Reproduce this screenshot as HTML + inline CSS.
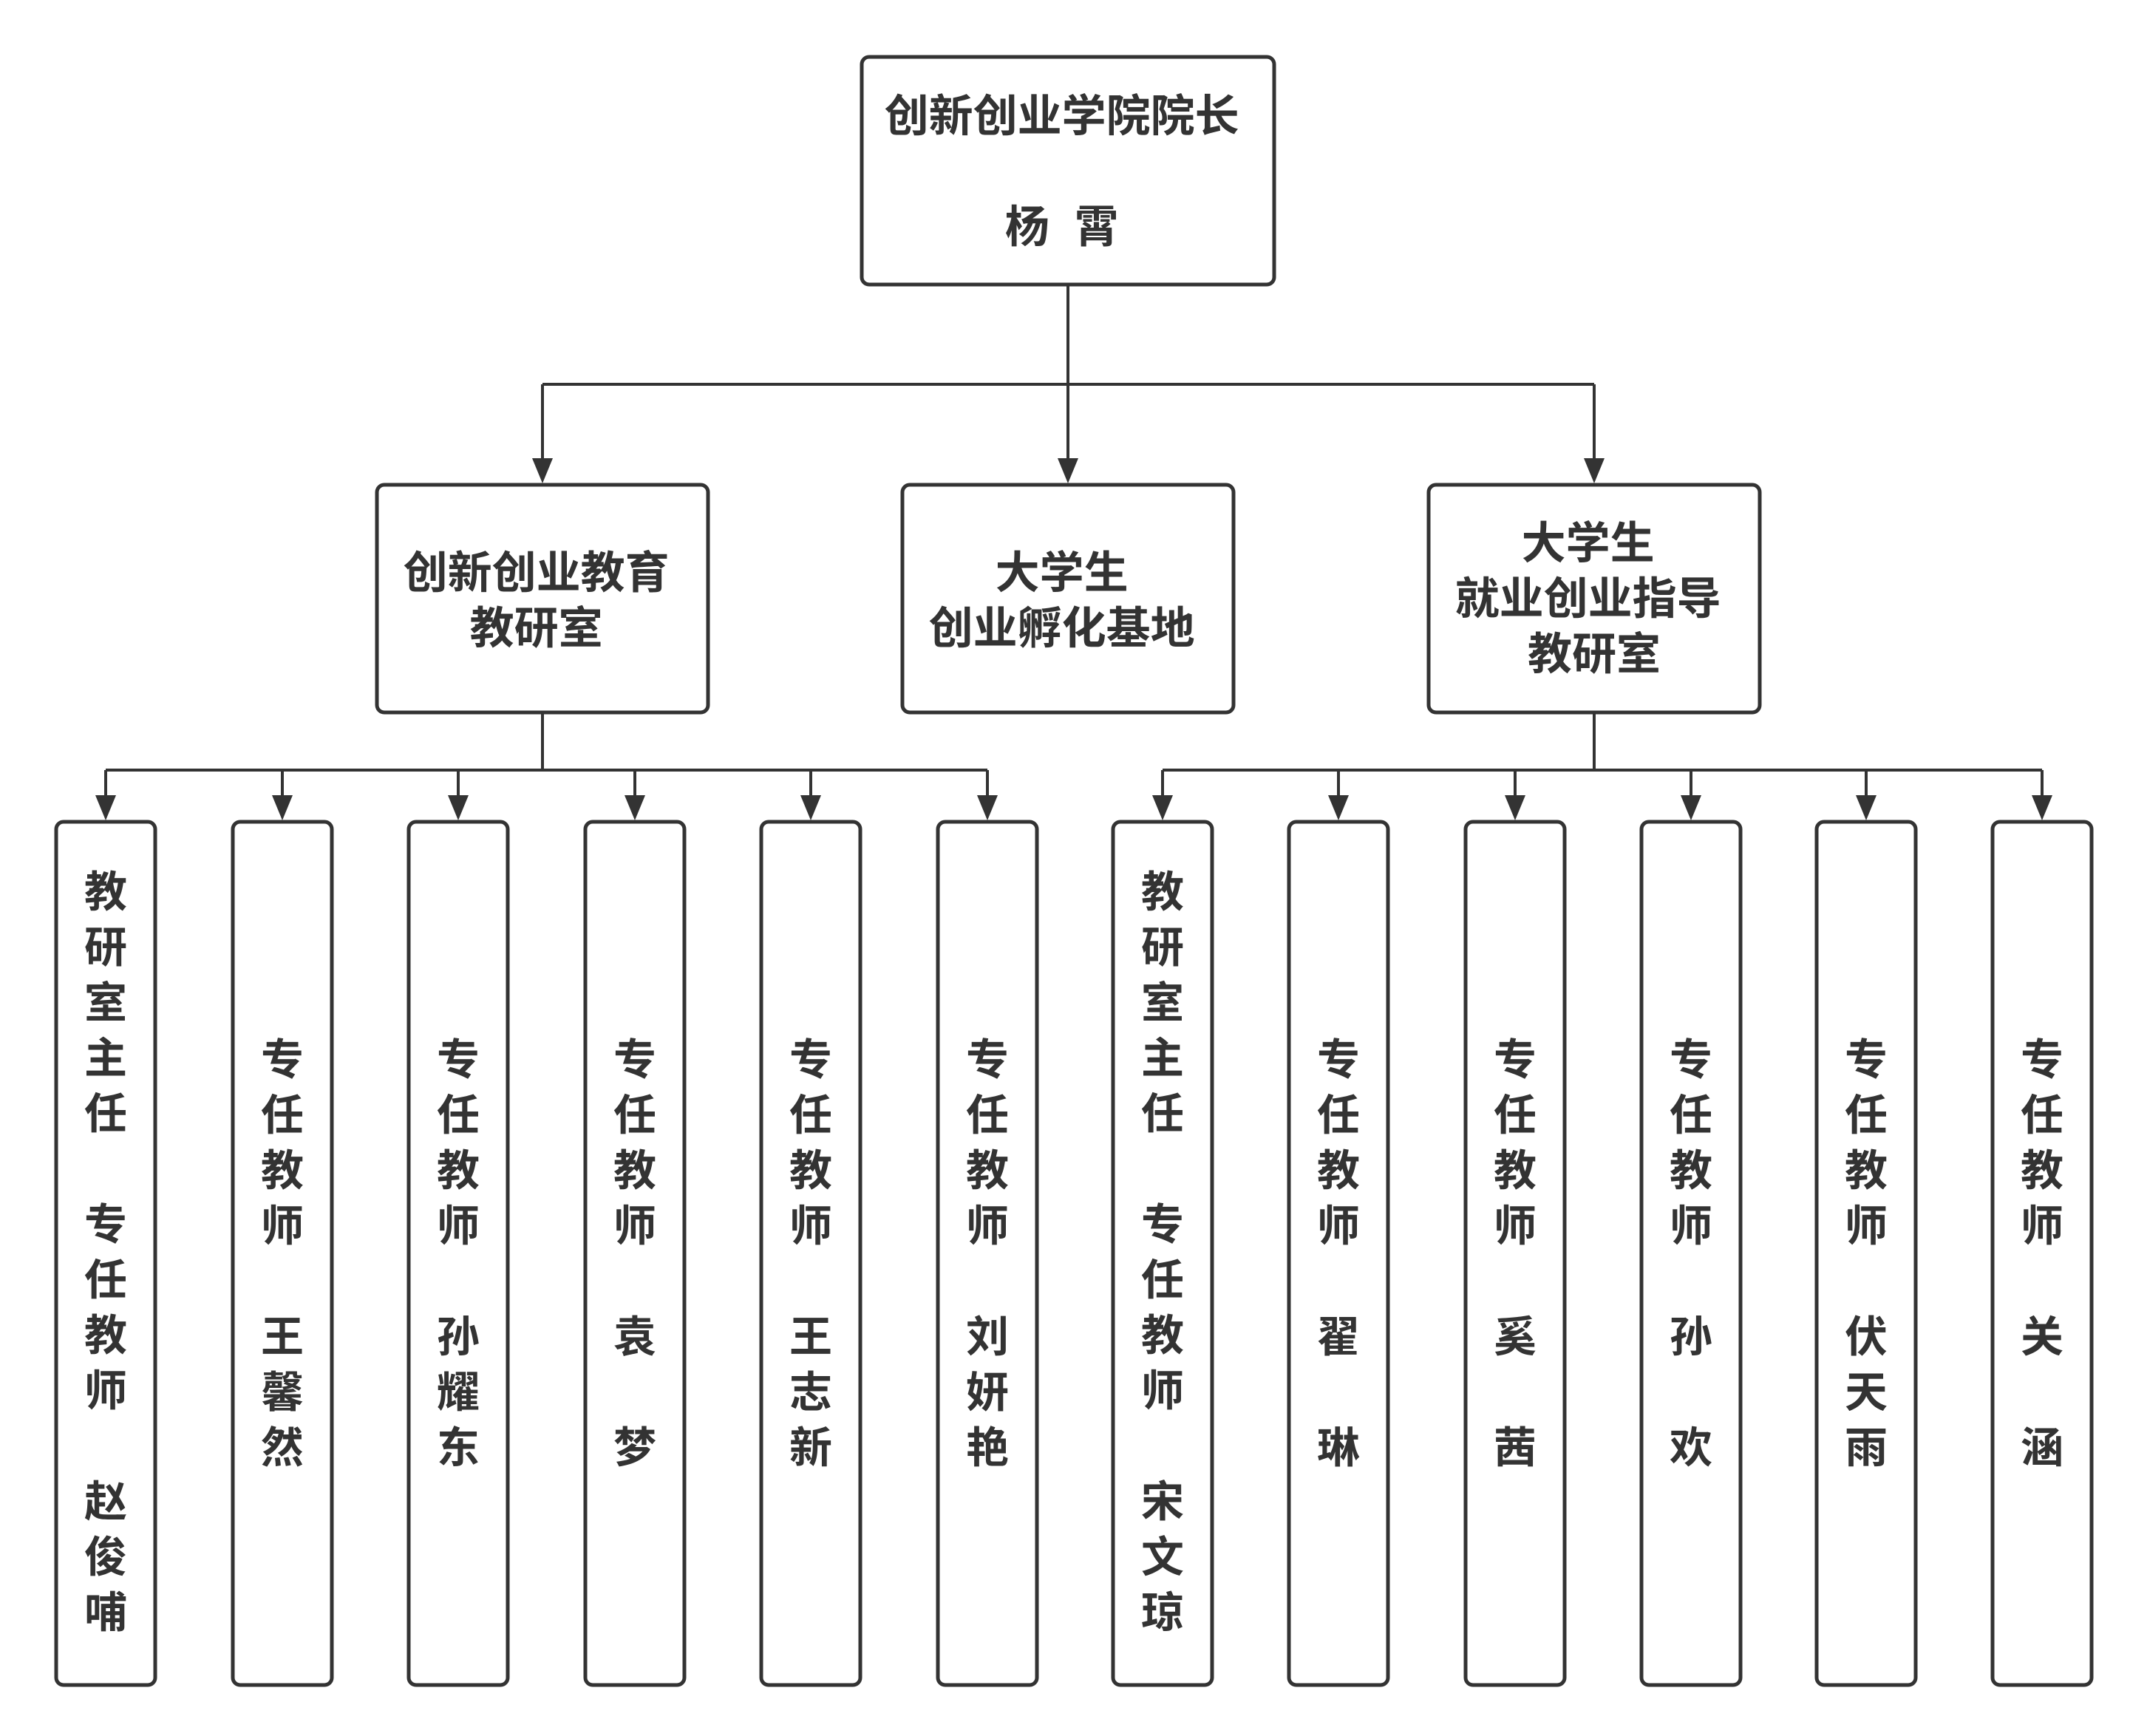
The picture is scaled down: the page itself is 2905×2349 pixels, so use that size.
<!DOCTYPE html>
<html><head><meta charset="utf-8"><style>
html,body{margin:0;padding:0;background:#fff;}
svg{display:block;}
text{font-family:"Liberation Sans","Noto Sans CJK SC",sans-serif;font-weight:bold;fill:#333;}
</style></head><body>
<svg width="2905" height="2349" viewBox="0 0 2905 2349" xmlns="http://www.w3.org/2000/svg">
<g fill="none" stroke="#333">
<rect x="1166" y="77" width="558" height="308" rx="10" stroke-width="5" fill="#fff"/>
<rect x="510" y="656" width="448" height="308" rx="10" stroke-width="5"/>
<rect x="1221" y="656" width="448" height="308" rx="10" stroke-width="5"/>
<rect x="1933" y="656" width="448" height="308" rx="10" stroke-width="5"/>
<path d="M1445 387 V622 M734 520 H2157 M734 520 V622 M2157 520 V622" stroke-width="4"/>
<path d="M734 964 V1042 M143 1042 H1336 M2157 964 V1042 M1573 1042 H2763" stroke-width="4"/>
</g>
<g fill="#333">
<polygon points="720,620 748,620 734,654"/>
<polygon points="1431,620 1459,620 1445,654"/>
<polygon points="2143,620 2171,620 2157,654"/>
</g>
<text font-size="60" text-anchor="middle" dominant-baseline="central">
<tspan x="1445" y="157">创新创业学院院长</tspan>
<tspan x="1398" y="307">杨</tspan>
<tspan x="1492" y="307">霄</tspan>
<tspan x="734" y="775">创新创业教育</tspan>
<tspan x="734" y="850">教研室</tspan>
<tspan x="1445" y="775">大学生</tspan>
<tspan x="1445" y="850">创业孵化基地</tspan>
<tspan x="2157" y="735">大学生</tspan>
<tspan x="2157" y="810">就业创业指导</tspan>
<tspan x="2157" y="885">教研室</tspan>
</text>
<g fill="none" stroke="#333" stroke-width="4">
<path d="M143 1042V1078 M382 1042V1078 M620 1042V1078 M859 1042V1078 M1097 1042V1078 M1336 1042V1078 M1573 1042V1078 M1811 1042V1078 M2050 1042V1078 M2288 1042V1078 M2525 1042V1078 M2763 1042V1078"/>
</g>
<g fill="#333">
<polygon points="129,1076 157,1076 143,1110"/>
<polygon points="368,1076 396,1076 382,1110"/>
<polygon points="606,1076 634,1076 620,1110"/>
<polygon points="845,1076 873,1076 859,1110"/>
<polygon points="1083,1076 1111,1076 1097,1110"/>
<polygon points="1322,1076 1350,1076 1336,1110"/>
<polygon points="1559,1076 1587,1076 1573,1110"/>
<polygon points="1797,1076 1825,1076 1811,1110"/>
<polygon points="2036,1076 2064,1076 2050,1110"/>
<polygon points="2274,1076 2302,1076 2288,1110"/>
<polygon points="2511,1076 2539,1076 2525,1110"/>
<polygon points="2749,1076 2777,1076 2763,1110"/>
</g>
<g fill="none" stroke="#333" stroke-width="5">
<rect x="76" y="1112" width="134" height="1168" rx="10"/>
<rect x="315" y="1112" width="134" height="1168" rx="10"/>
<rect x="553" y="1112" width="134" height="1168" rx="10"/>
<rect x="792" y="1112" width="134" height="1168" rx="10"/>
<rect x="1030" y="1112" width="134" height="1168" rx="10"/>
<rect x="1269" y="1112" width="134" height="1168" rx="10"/>
<rect x="1506" y="1112" width="134" height="1168" rx="10"/>
<rect x="1744" y="1112" width="134" height="1168" rx="10"/>
<rect x="1983" y="1112" width="134" height="1168" rx="10"/>
<rect x="2221" y="1112" width="134" height="1168" rx="10"/>
<rect x="2458" y="1112" width="134" height="1168" rx="10"/>
<rect x="2696" y="1112" width="134" height="1168" rx="10"/>
</g>
<g font-size="58" text-anchor="middle" dominant-baseline="central">
<text><tspan x="143" y="1207">教</tspan><tspan x="143" y="1282">研</tspan><tspan x="143" y="1357">室</tspan><tspan x="143" y="1432">主</tspan><tspan x="143" y="1507">任</tspan><tspan x="143" y="1657">专</tspan><tspan x="143" y="1732">任</tspan><tspan x="143" y="1807">教</tspan><tspan x="143" y="1882">师</tspan><tspan x="143" y="2032">赵</tspan><tspan x="143" y="2107">俊</tspan><tspan x="143" y="2182">哺</tspan></text>
<text><tspan x="1573" y="1207">教</tspan><tspan x="1573" y="1282">研</tspan><tspan x="1573" y="1357">室</tspan><tspan x="1573" y="1432">主</tspan><tspan x="1573" y="1507">任</tspan><tspan x="1573" y="1657">专</tspan><tspan x="1573" y="1732">任</tspan><tspan x="1573" y="1807">教</tspan><tspan x="1573" y="1882">师</tspan><tspan x="1573" y="2032">宋</tspan><tspan x="1573" y="2107">文</tspan><tspan x="1573" y="2182">琼</tspan></text>
<text><tspan x="382" y="1434">专</tspan><tspan x="382" y="1509">任</tspan><tspan x="382" y="1584">教</tspan><tspan x="382" y="1659">师</tspan><tspan x="382" y="1809">王</tspan><tspan x="382" y="1884">馨</tspan><tspan x="382" y="1959">然</tspan></text>
<text><tspan x="620" y="1434">专</tspan><tspan x="620" y="1509">任</tspan><tspan x="620" y="1584">教</tspan><tspan x="620" y="1659">师</tspan><tspan x="620" y="1809">孙</tspan><tspan x="620" y="1884">耀</tspan><tspan x="620" y="1959">东</tspan></text>
<text><tspan x="859" y="1434">专</tspan><tspan x="859" y="1509">任</tspan><tspan x="859" y="1584">教</tspan><tspan x="859" y="1659">师</tspan><tspan x="859" y="1809">袁</tspan><tspan x="859" y="1959">梦</tspan></text>
<text><tspan x="1097" y="1434">专</tspan><tspan x="1097" y="1509">任</tspan><tspan x="1097" y="1584">教</tspan><tspan x="1097" y="1659">师</tspan><tspan x="1097" y="1809">王</tspan><tspan x="1097" y="1884">志</tspan><tspan x="1097" y="1959">新</tspan></text>
<text><tspan x="1336" y="1434">专</tspan><tspan x="1336" y="1509">任</tspan><tspan x="1336" y="1584">教</tspan><tspan x="1336" y="1659">师</tspan><tspan x="1336" y="1809">刘</tspan><tspan x="1336" y="1884">妍</tspan><tspan x="1336" y="1959">艳</tspan></text>
<text><tspan x="1811" y="1434">专</tspan><tspan x="1811" y="1509">任</tspan><tspan x="1811" y="1584">教</tspan><tspan x="1811" y="1659">师</tspan><tspan x="1811" y="1809">翟</tspan><tspan x="1811" y="1959">琳</tspan></text>
<text><tspan x="2050" y="1434">专</tspan><tspan x="2050" y="1509">任</tspan><tspan x="2050" y="1584">教</tspan><tspan x="2050" y="1659">师</tspan><tspan x="2050" y="1809">奚</tspan><tspan x="2050" y="1959">茜</tspan></text>
<text><tspan x="2288" y="1434">专</tspan><tspan x="2288" y="1509">任</tspan><tspan x="2288" y="1584">教</tspan><tspan x="2288" y="1659">师</tspan><tspan x="2288" y="1809">孙</tspan><tspan x="2288" y="1959">欢</tspan></text>
<text><tspan x="2525" y="1434">专</tspan><tspan x="2525" y="1509">任</tspan><tspan x="2525" y="1584">教</tspan><tspan x="2525" y="1659">师</tspan><tspan x="2525" y="1809">伏</tspan><tspan x="2525" y="1884">天</tspan><tspan x="2525" y="1959">雨</tspan></text>
<text><tspan x="2763" y="1434">专</tspan><tspan x="2763" y="1509">任</tspan><tspan x="2763" y="1584">教</tspan><tspan x="2763" y="1659">师</tspan><tspan x="2763" y="1809">关</tspan><tspan x="2763" y="1959">涵</tspan></text>
</g>
</svg>
</body></html>
